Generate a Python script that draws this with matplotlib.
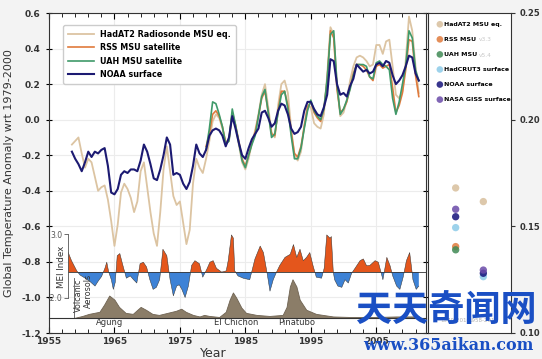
import numpy as np
import matplotlib.pyplot as plt
from matplotlib.ticker import MultipleLocator, FormatStrFormatter

# half-year samples
years_long = np.arange(1958.5, 2011.75, 0.5)
years_sat = np.arange(1979.0, 2011.75, 0.5)

noaa = [-0.18, -0.22, -0.25,
        -0.29, -0.24, -0.18, -0.21, -0.18, -0.19, -0.17, -0.16, -0.26, -0.41,
        -0.42, -0.39, -0.31, -0.29, -0.30, -0.28, -0.28, -0.29, -0.23, -0.14,
        -0.18, -0.25, -0.33, -0.34, -0.28, -0.20, -0.10, -0.14, -0.31, -0.30,
        -0.31, -0.36, -0.39, -0.35, -0.26, -0.14, -0.19, -0.21, -0.17, -0.09,
        -0.06, -0.05, -0.06, -0.09, -0.15, -0.10, 0.02, -0.05, -0.13, -0.20,
        -0.22, -0.16, -0.11, -0.08, -0.05, 0.04, 0.05, 0.01, -0.04, -0.02,
        0.05, 0.09, 0.08, 0.03, -0.05, -0.08, -0.07, -0.04, 0.05, 0.10,
        0.10, 0.06, 0.03, 0.02, 0.07, 0.14, 0.34, 0.33, 0.20, 0.14,
        0.15, 0.13, 0.19, 0.23, 0.31, 0.29, 0.27, 0.28, 0.26, 0.27,
        0.31, 0.32, 0.30, 0.33, 0.32, 0.25, 0.20, 0.22, 0.25, 0.30,
        0.36, 0.35, 0.26, 0.22]

hadat2 = [-0.14, -0.12, -0.10,
          -0.19, -0.27, -0.22, -0.24, -0.32, -0.40, -0.38, -0.37, -0.45, -0.57,
          -0.71, -0.59, -0.41, -0.36, -0.39, -0.44, -0.52, -0.46, -0.29, -0.24,
          -0.38, -0.52, -0.64, -0.71, -0.52, -0.28, -0.15, -0.29, -0.43, -0.48,
          -0.46, -0.58, -0.70, -0.62, -0.36, -0.22, -0.27, -0.30, -0.22, -0.12,
          -0.01, 0.03, 0.01, -0.05, -0.13, -0.12, 0.03, -0.04, -0.14, -0.24,
          -0.28, -0.22, -0.13, -0.06, 0.03, 0.14, 0.20, 0.07, -0.07, -0.10,
          0.08, 0.20, 0.22, 0.15, -0.05, -0.20, -0.23, -0.18, -0.03, 0.08,
          0.07, -0.02, -0.04, -0.05, 0.03, 0.25, 0.52, 0.48, 0.20, 0.02,
          0.04, 0.11, 0.22, 0.30, 0.35, 0.36, 0.35, 0.33, 0.30, 0.31,
          0.42, 0.42, 0.37, 0.44, 0.45, 0.30, 0.14, 0.12, 0.16, 0.33,
          0.58, 0.50, 0.30, 0.15]

rss = [-0.15, -0.08,
       0.03, 0.05, 0.02, -0.04, -0.13, -0.11, 0.04, -0.03, -0.12, -0.22,
       -0.26, -0.20, -0.13, -0.07, 0.02, 0.12, 0.16, 0.04, -0.08, -0.09,
       0.05, 0.16, 0.16, 0.08, -0.07, -0.19, -0.21, -0.15, -0.04, 0.07,
       0.10, 0.04, 0.01, -0.01, 0.06, 0.22, 0.50, 0.46, 0.17, 0.04,
       0.06, 0.10, 0.18, 0.26, 0.31, 0.31, 0.30, 0.28, 0.24, 0.22,
       0.30, 0.31, 0.29, 0.30, 0.31, 0.18, 0.04, 0.08, 0.15, 0.28,
       0.45, 0.44, 0.25, 0.13]

uah = [-0.17, -0.05,
       0.10, 0.09, 0.03, -0.04, -0.14, -0.12, 0.06, -0.03, -0.13, -0.23,
       -0.27, -0.20, -0.14, -0.09, 0.02, 0.13, 0.17, 0.04, -0.10, -0.08,
       0.04, 0.14, 0.16, 0.06, -0.09, -0.22, -0.22, -0.16, -0.05, 0.05,
       0.11, 0.05, 0.02, 0.00, 0.06, 0.23, 0.48, 0.50, 0.20, 0.03,
       0.06, 0.11, 0.17, 0.25, 0.31, 0.31, 0.31, 0.30, 0.24, 0.23,
       0.32, 0.33, 0.31, 0.30, 0.28, 0.12, 0.03, 0.10, 0.20, 0.30,
       0.50, 0.46, 0.28, 0.22]

# MEI index
mei_year = [1957.8, 1958.3, 1958.8, 1959.1, 1959.6, 1960.4, 1961.1, 1961.9, 1962.4, 1962.9,
            1963.4, 1963.7, 1964.0, 1964.4, 1964.7, 1965.0, 1965.3, 1965.7, 1966.1, 1966.7,
            1967.3, 1967.8, 1968.3, 1968.8, 1969.3, 1969.8, 1970.3, 1970.8, 1971.3, 1971.8,
            1972.3, 1972.9, 1973.4, 1973.9, 1974.4, 1974.8, 1975.2, 1975.7, 1976.2, 1976.7,
            1977.2, 1977.9, 1978.4, 1979.0, 1979.5, 1980.0, 1980.5, 1981.3, 1982.0, 1982.3,
            1982.8, 1983.1, 1983.3, 1983.8, 1984.6, 1985.6, 1986.4, 1987.2, 1987.7, 1988.2,
            1988.7, 1989.2, 1989.7, 1990.2, 1991.0, 1991.8, 1992.3, 1992.8, 1993.3, 1993.8,
            1994.3, 1994.8, 1995.3, 1995.8, 1996.6, 1997.0, 1997.4, 1997.9, 1998.1, 1998.4,
            1998.6, 1999.1, 1999.7, 2000.2, 2000.7, 2001.2, 2001.7, 2002.5, 2003.0, 2003.5,
            2004.0, 2004.8, 2005.3, 2005.7, 2006.0, 2006.6, 2007.1, 2007.5, 2008.1, 2008.6,
            2009.1, 2009.6, 2010.1, 2010.4, 2010.6, 2011.1, 2011.5]
mei_val = [1.54, 0.9, 0.4, 0.1, -0.23, -0.48, -0.73, -1.1, -0.7, -0.35,
           0.28, 0.78, 0.0, -0.6, -1.36, -0.8, 1.29, 1.46, 0.66, -0.48,
           -0.3, -0.6, -0.86, 0.66, 0.78, 0.4, -0.6, -1.36, -1.2, -0.6,
           1.8, 1.29, -0.6, -1.87, -1.1, -1.0, -1.36, -2.0, -1.1, 0.53,
           0.9, 0.66, -0.4, 0.2, 0.78, 0.9, 0.3, 0.0, 0.1, 0.9,
           2.93, 2.67, 0.1, -0.3, -0.48, -0.6, 1.04, 2.05, 1.54, 0.1,
           -1.5, -0.6, 0.0, 0.53, 1.16, 1.4, 2.17, 1.16, 1.8, 0.9,
           1.16, 1.54, 0.5, -0.4, -0.48, 0.3, 2.93, 2.67, 2.8, 0.0,
           -0.6, -1.1, -1.2, -0.6, -0.86, -0.1, 0.28, 0.9, 1.04, 0.5,
           0.53, 0.9, 0.78, 0.0, -0.6, 1.16, 0.5, -0.3, -1.1, -1.36,
           -0.4, 0.9, 1.54, 0.3, -0.6, -1.36, -1.1]

# volcanic aerosol optical depth
aer_year = [1958.8, 1960.1, 1961.1, 1962.7, 1963.4, 1964.2, 1965.0, 1965.7, 1966.7, 1967.8,
            1968.5, 1969.0, 1969.8, 1970.8, 1971.8, 1973.1, 1974.4, 1975.2, 1975.9, 1977.0,
            1978.0, 1978.7, 1979.5, 1981.0, 1982.0, 1982.6, 1983.1, 1983.6, 1984.4, 1985.1,
            1986.7, 1988.7, 1990.7, 1991.3, 1991.8, 1992.2, 1992.8, 1993.3, 1994.3, 1995.8,
            1998.4, 2001.0, 2005.0, 2008.0, 2011.5]
aer_val = [0, 0.008, 0.016, 0.024, 0.051, 0.087, 0.071, 0.043, 0.020, 0.016,
           0.032, 0.043, 0.032, 0.016, 0.012, 0.020, 0.028, 0.036, 0.024, 0.012,
           0.006, 0.012, 0.008, 0.004, 0.024, 0.071, 0.099, 0.079, 0.040, 0.020,
           0.012, 0.008, 0.012, 0.043, 0.122, 0.150, 0.122, 0.071, 0.032, 0.016,
           0.006, 0.004, 0.004, 0.006, 0.006]
volcanoes = ["Agung", "El Chichon", "Pinatubo"]
volcano_year = [1964.2, 1983.6, 1992.8]

# trends (degC/decade) for right panel
trend_names = ["HadAT2 MSU eq.", "RSS MSU", "UAH MSU", "HadCRUT3 surface", "NOAA surface", "NASA GISS surface"]
trend_colors = ["#d8bf9c", "#e07a3c", "#3f8a55", "#8ccbe8", "#15127a", "#6a4aa8"]
trend_1979 = [0.168, 0.1405, 0.139, 0.1494, 0.1545, 0.158]
trend_1958 = [0.1616, None, None, 0.1264, 0.128, 0.1295]
period_labels = ["1979-2010", "1958-2010"]

c_had, c_rss, c_uah, c_noaa = "#dcc4a2", "#e07a3c", "#3f9a6a", "#1c1a72"

W, H = 542, 359
fig = plt.figure(figsize=(W / 100, H / 100), dpi=100, facecolor="#f3f3f3")
ax = fig.add_axes([49 / W, 26 / H, 377 / W, 320 / H])
xmin, xmax = 1955, 2012.6

ax.grid(True, color="#ececec", lw=0.8)
ax.set_axisbelow(True)
ax.plot(years_long, hadat2, color=c_had, lw=1.3, label="HadAT2 Radiosonde MSU eq.")
ax.plot(years_sat, rss, color=c_rss, lw=1.2, label="RSS MSU satellite")
ax.plot(years_sat, uah, color=c_uah, lw=1.2, label="UAH MSU satellite")
ax.plot(years_long, noaa, color=c_noaa, lw=1.5, label="NOAA surface")
ax.set_xlim(xmin, xmax)
ax.set_ylim(-1.2, 0.6)
ax.xaxis.set_major_locator(MultipleLocator(10, offset=5))
ax.xaxis.set_minor_locator(MultipleLocator(2, offset=1))
ax.yaxis.set_major_locator(MultipleLocator(0.2))
ax.yaxis.set_major_formatter(FormatStrFormatter("%.1f"))
ax.tick_params(axis="x", which="both", direction="in", top=True, labelsize=6.5, pad=3)
ax.tick_params(axis="x", which="major", length=4)
ax.tick_params(axis="x", which="minor", length=3)
ax.tick_params(axis="y", direction="inout", right=True, length=5, labelsize=6.5)
for lab in ax.get_xticklabels() + ax.get_yticklabels():
    lab.set_fontweight("bold")
    lab.set_color("#333333")
for s in ax.spines.values():
    s.set_color("#333333")
    s.set_linewidth(0.8)
ax.set_ylabel("Global Temperature Anomaly wrt 1979-2000", fontsize=8, color="#333333")
ax.yaxis.set_label_coords(-0.093, 0.5)
ax.set_xlabel("Year", fontsize=9, color="#333333")
ax.xaxis.set_label_coords(0.435, -0.045)

leg = ax.legend(loc="upper left", bbox_to_anchor=(0.037, 0.9625), borderaxespad=0,
                prop={"size": 5.8, "weight": "bold"}, handlelength=3.2, labelspacing=0.55,
                fancybox=True, framealpha=1, edgecolor="#cccccc", borderpad=0.6)

# MEI panel
ax_mei = fig.add_axes([68 / W, (H - 297.5) / H, (426 - 68) / W, 63.5 / H])
ax_mei.patch.set_alpha(0)
ax_mei.set_xlim(1957.76, xmax)
ax_mei.set_ylim(-2, 3)
mei_year_a = np.array(mei_year)
mei_val_a = np.array(mei_val)
ax_mei.fill_between(mei_year_a, 0, mei_val_a, where=mei_val_a >= 0, interpolate=True,
                    color="#e4561c", lw=0)
ax_mei.fill_between(mei_year_a, 0, mei_val_a, where=mei_val_a <= 0, interpolate=True,
                    color="#3d82d6", lw=0)
ax_mei.plot(mei_year_a, mei_val_a, color="#333333", lw=0.35)
ax_mei.axhline(0, color="#333333", lw=0.6)
for k in ["top", "right", "bottom"]:
    ax_mei.spines[k].set_visible(False)
ax_mei.spines["left"].set_color("#555555")
ax_mei.spines["left"].set_linewidth(0.6)
ax_mei.set_xticks([])
ax_mei.set_yticks([-2, 3])
ax_mei.set_yticklabels(["-2.0", "3.0"])
ax_mei.tick_params(axis="y", length=3, width=0.6, labelsize=5.5, colors="#555555", pad=1)
fig.text(62 / W, 1 - 267 / H, "MEI Index", rotation=90, fontsize=6.3, color="#333333",
         ha="center", va="center")

# volcanic aerosol panel
ax_aer = fig.add_axes([49 / W, (H - 318) / H, 377 / W, 40 / H])
ax_aer.patch.set_alpha(0)
ax_aer.set_xlim(xmin, xmax)
ax_aer.set_ylim(0, 0.155)
ax_aer.fill_between(aer_year, 0, aer_val, color="#8b7d68", lw=0.6, edgecolor="#6f6352")
ax_aer.axvline(aer_year[0], color="#555555", lw=0.6)
for k in ["top", "right", "left"]:
    ax_aer.spines[k].set_visible(False)
ax_aer.spines["bottom"].set_color("#333333")
ax_aer.spines["bottom"].set_linewidth(0.8)
ax_aer.set_xticks([])
ax_aer.set_yticks([])
for name, yr in zip(volcanoes, volcano_year):
    ax_aer.text(yr, -0.018, name, fontsize=6, color="#333333", ha="center", va="center",
                clip_on=False)
fig.text(78 / W, 1 - 295 / H, "Volcanic", rotation=90, fontsize=5.8, color="#333333",
         ha="center", va="center")
fig.text(88 / W, 1 - 291 / H, "Aerosols", rotation=90, fontsize=5.8, color="#333333",
         ha="center", va="center")

# right panel: trends
axr = fig.add_axes([428 / W, 26 / H, 83 / W, 320 / H])
axr.set_xlim(0, 3)
axr.set_ylim(0.10, 0.25)
handles = []
for name, col, t79, t58 in zip(trend_names, trend_colors, trend_1979, trend_1958):
    h = axr.scatter([1], [t79], s=28, color=col, alpha=0.85, edgecolor="none", zorder=3, label=name)
    if t58 is not None:
        axr.scatter([2], [t58], s=28, color=col, alpha=0.85, edgecolor="none", zorder=3)
    handles.append(h)
axr.yaxis.tick_right()
axr.set_yticks([0.10, 0.15, 0.20, 0.25])
axr.yaxis.set_major_formatter(FormatStrFormatter("%.2f"))
axr.tick_params(axis="y", direction="out", length=3, labelsize=6, colors="#333333")
for lab in axr.get_yticklabels():
    lab.set_fontweight("bold")
axr.set_xticks([])
for s in axr.spines.values():
    s.set_color("#333333")
    s.set_linewidth(0.8)
axr.legend(handles=handles, loc="upper left", bbox_to_anchor=(0.06, 0.985), frameon=False,
           prop={"size": 4.5, "weight": "bold"}, handletextpad=0.1, labelspacing=1.55,
           borderaxespad=0.2, markerscale=0.9, handlelength=1.0)
axr.text(0.61, 0.916, "v3.3", transform=axr.transAxes, fontsize=4.2, color="#c8c8c8",
         va="center")
axr.text(0.61, 0.868, "v5.4", transform=axr.transAxes, fontsize=4.2, color="#c8c8c8",
         va="center")
for i, lab in enumerate(period_labels):
    axr.text(i + 1, 0.106, lab, fontsize=4, color="#b0b0b0", ha="center", va="center")

# site watermark
fig.text(446 / W, 1 - 310 / H, "天天奇闻网", fontsize=26, color="#1a4fc4", fontweight="bold",
         family=["Noto Sans CJK SC", "DejaVu Sans"], ha="center", va="center")
fig.text(448 / W, 1 - 345 / H, "www.365aikan.com", fontsize=11.5, color="#1a4fc4",
         fontweight="bold", family="DejaVu Serif", ha="center", va="center")

fig.savefig("out.png", dpi=100, facecolor=fig.get_facecolor())
